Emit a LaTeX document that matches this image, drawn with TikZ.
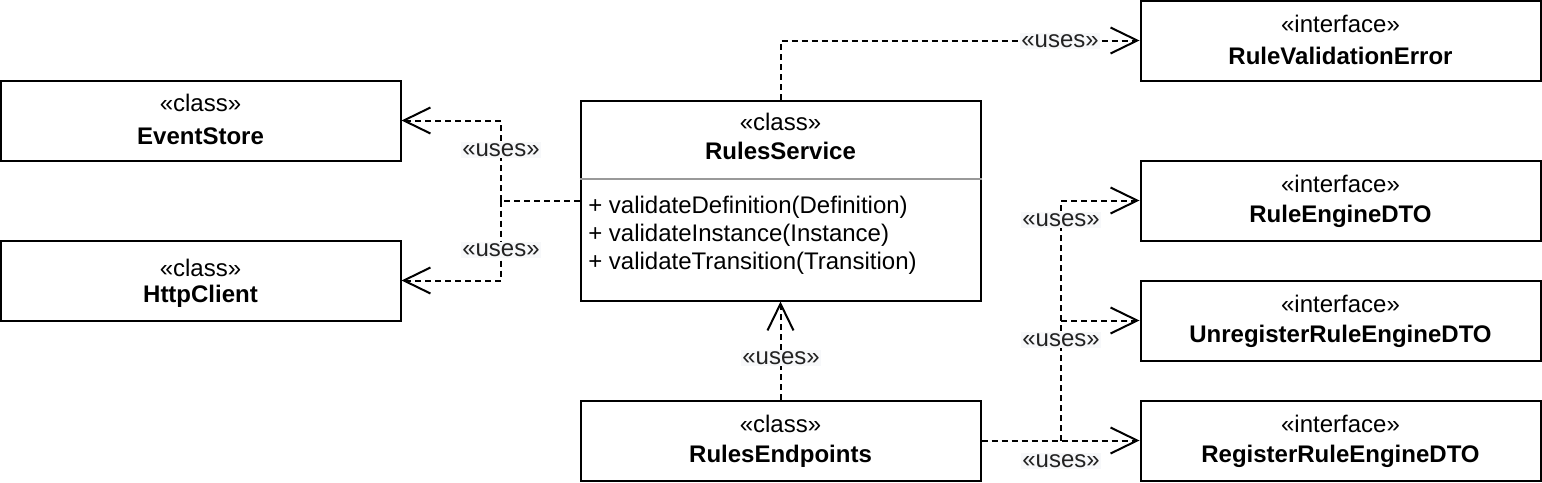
\documentclass[tikz,border=0pt]{standalone}
\usepackage{fontspec}
\setmainfont{Liberation Sans}
\usetikzlibrary{arrows.meta}
\definecolor{lblbg}{HTML}{F7F8FA}
\definecolor{lbltx}{HTML}{222222}
\definecolor{sepc}{HTML}{999999}
\begin{document}
\begin{tikzpicture}[x=0.75pt,y=-0.75pt,
  box/.style={draw,line width=1.5pt,minimum width=300pt,minimum height=60pt,inner sep=0pt},
  st/.style={font=\fontsize{18pt}{21pt}\selectfont,inner sep=0pt},
  nm/.style={font=\fontsize{18pt}{21pt}\selectfont\bfseries,inner sep=0pt},
  meth/.style={font=\fontsize{18pt}{21pt}\selectfont,inner sep=0pt,anchor=west},
  dep/.style={line width=1.5pt,dash pattern=on 4.5pt off 3pt,-{Straight Barb[length=20pt,width=19.5pt]}},
  depn/.style={line width=1.5pt,dash pattern=on 4.5pt off 3pt},
  lbl/.style={font=\fontsize{18pt}{21pt}\selectfont,text=lbltx,fill=lblbg,inner sep=1pt}]
\useasboundingbox (0,0) rectangle (1542,482);
% boxes
\node[box] (es) at (200.5,120.5) {};
\node[st] (es1) at (200.5,103) {«class»};
\node[nm] (es2) at (200.5,136) {EventStore};
\node[box] (hc) at (200.5,280.5) {};
\node[st] (hc1) at (200.5,268) {«class»};
\node[nm] (hc2) at (200.5,296) {HttpClient};
\node[box,minimum height=150pt] (rs) at (780.5,200.5) {};
\node[st] (rs1) at (780.5,122) {«class»};
\node[nm] (rs2) at (780.5,151) {RulesService};
\draw[sepc,line width=1.5pt] (rs.west |- 0,179) -- (rs.east |- 0,179);
\node[meth] (m1) at (588,207) {+ validateDefinition(Definition)};
\node[meth] (m2) at (588,235) {+ validateInstance(Instance)};
\node[meth] (m3) at (588,263) {+ validateTransition(Transition)};
\node[box] (re) at (780.5,440.5) {};
\node[st] (re1) at (780.5,424) {«class»};
\node[nm] (re2) at (780.5,456) {RulesEndpoints};
\node[box] (rve) at (1340.5,40.5) {};
\node[st] (rve1) at (1340.5,24) {«interface»};
\node[nm] (rve2) at (1340.5,56) {RuleValidationError};
\node[box] (red) at (1340.5,200.5) {};
\node[st] (red1) at (1340.5,184) {«interface»};
\node[nm] (red2) at (1340.5,216) {RuleEngineDTO};
\node[box] (ure) at (1340.5,320.5) {};
\node[st] (ure1) at (1340.5,304) {«interface»};
\node[nm] (ure2) at (1340.5,336) {UnregisterRuleEngineDTO};
\node[box] (reg) at (1340.5,440.5) {};
\node[st] (reg1) at (1340.5,424) {«interface»};
\node[nm] (reg2) at (1340.5,456) {RegisterRuleEngineDTO};
% connectors
\coordinate (j1) at (501,200.5);
\coordinate (j2) at (1061,440.5);
\draw[depn] (rs.west) -- (j1);
\draw[dep] (j1) |- (es.east);
\draw[dep] (j1) |- (hc.east);
\draw[dep] (rs.north) |- (rve.west);
\draw[dep] (re.north) -- (rs.south);
\draw[dep] (re.east) -- (reg.west);
\draw[dep] (j2) |- (ure.west);
\draw[dep] (j2) |- (red.west);
% labels
\node[lbl] (l1) at (501,150) {«uses»};
\node[lbl] (l2) at (501,250) {«uses»};
\node[lbl] (l3) at (1060,41) {«uses»};
\node[lbl] (l4) at (781,358) {«uses»};
\node[lbl] (l5) at (1061,220) {«uses»};
\node[lbl] (l6) at (1061,340) {«uses»};
\node[lbl] (l7) at (1061,461) {«uses»};
\end{tikzpicture}
\end{document}
